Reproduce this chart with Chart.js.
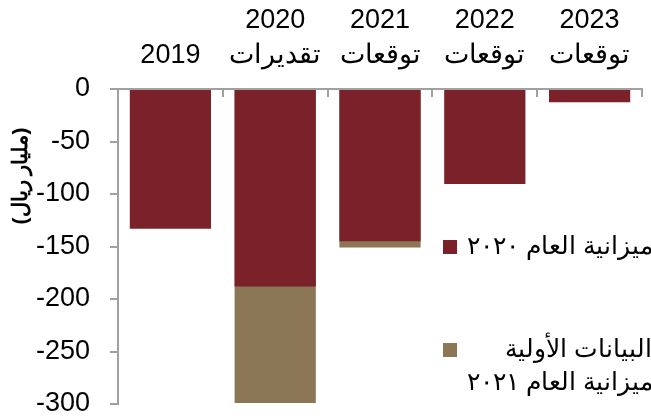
<!DOCTYPE html>
<html lang="ar">
<head>
<meta charset="utf-8">
<script src="https://cdn.jsdelivr.net/npm/chart.js@4.4.1/dist/chart.umd.min.js"></script>
<style>
  body { margin: 0; background: #fff; }
  #wrap { width: 651px; height: 416px; position: relative; }
</style>
</head>
<body>
<div id="wrap"><canvas id="deficitChart"></canvas></div>
<script>
'use strict';

// categories (year + sub label)
var years = ['2019', '2020', '2021', '2022', '2023'];
var subLabels = ['', 'تقديرات', 'توقعات', 'توقعات', 'توقعات'];

// series values (billion riyals)
var budget2020 = [-133, -188, -145, -90.5, -12.5];
var prelim2021 = [null, -299, -151, null, null];

var yTicks = [0, -50, -100, -150, -200, -250, -300];

var seriesNames = ['ميزانية العام ٢٠٢٠', ['البيانات الأولية', 'للميزانية العام ٢٠٢١']];
var yTitle = '(مليار ريال)';

var RED = '#7b2129';
var TAN = '#8b7656';
var AXIS = '#a0a0a0';
var FONT = "'Liberation Sans', Arial, sans-serif";

(function () {
  var labels = years.map(function (y, i) {
    return subLabels[i] ? [y, subLabels[i]] : y;
  });

  // small ticks pointing down from the top axis, the y title and the legend
  var extras = {
    id: 'extras',
    afterDraw: function (chart) {
      var ctx = chart.ctx;
      var xs = chart.scales.x;
      var step = (xs.right - xs.left) / labels.length;
      ctx.save();
      ctx.strokeStyle = AXIS;
      ctx.lineWidth = 2;
      for (var i = 1; i <= labels.length; i++) {
        var px = Math.round(xs.left + i * step);
        ctx.beginPath();
        ctx.moveTo(px, xs.bottom);
        ctx.lineTo(px, xs.bottom + 8);
        ctx.stroke();
      }
      ctx.restore();

      // y axis title
      ctx.save();
      ctx.translate(21, 176);
      ctx.rotate(-Math.PI / 2);
      ctx.font = 'bold 21px ' + FONT;
      ctx.fillStyle = '#000';
      ctx.textAlign = 'center';
      ctx.textBaseline = 'middle';
      ctx.direction = 'rtl';
      ctx.fillText(yTitle, 0, 0);
      ctx.restore();

      // legend (text clipped by the right edge, as in the source)
      ctx.save();
      ctx.font = '25px ' + FONT;
      ctx.textBaseline = 'middle';
      ctx.direction = 'rtl';
      ctx.fillStyle = chart.data.datasets[0].backgroundColor;
      ctx.fillRect(443, 240, 14, 14);
      ctx.fillStyle = chart.data.datasets[1].backgroundColor;
      ctx.fillRect(443, 343, 14, 14);
      ctx.fillStyle = '#000';
      ctx.textAlign = 'left';
      ctx.fillText(seriesNames[0], 467, 247);
      ctx.fillText(seriesNames[1][1], 467, 383);
      ctx.textAlign = 'right';
      ctx.fillText(seriesNames[1][0], 652, 350);
      ctx.restore();
    }
  };

  var ctx = document.getElementById('deficitChart').getContext('2d');
  new Chart(ctx, {
    type: 'bar',
    data: {
      labels: labels,
      datasets: [
        {
          label: 'ميزانية العام ٢٠٢٠',
          data: budget2020,
          backgroundColor: RED
        },
        {
          label: 'البيانات الأولية للميزانية العام ٢٠٢١',
          data: prelim2021,
          backgroundColor: TAN
        }
      ]
    },
    options: {
      responsive: true,
      maintainAspectRatio: false,
      animation: false,
      layout: { padding: { top: 0, right: 9, bottom: 12, left: 0 } },
      datasets: {
        bar: { grouped: false, categoryPercentage: 1, barPercentage: 0.775 }
      },
      plugins: {
        legend: { display: false },
        tooltip: { enabled: false }
      },
      scales: {
        x: {
          position: 'top',
          grid: { display: true, drawOnChartArea: false, drawTicks: false },
          border: { color: AXIS, width: 2 },
          ticks: {
            color: '#000',
            font: { family: FONT, size: 27, lineHeight: 1.3 },
            padding: 16,
            maxRotation: 0
          },
          afterFit: function (scale) {
            scale.height = 89;
            scale.paddingLeft = 0;
            scale.paddingRight = 0;
          }
        },
        y: {
          min: -300,
          max: 0,
          grid: { drawOnChartArea: false, tickLength: 8, color: AXIS, lineWidth: 2 },
          border: { color: AXIS, width: 2 },
          afterBuildTicks: function (scale) {
            scale.ticks = yTicks.map(function (v) { return { value: v }; });
          },
          ticks: {
            color: '#000',
            font: { family: FONT, size: 27 },
            padding: 20
          },
          afterFit: function (scale) {
            scale.width = 118;
            scale.paddingTop = 0;
            scale.paddingBottom = 0;
          }
        }
      }
    },
    plugins: [extras]
  });
})();
</script>
</body>
</html>
